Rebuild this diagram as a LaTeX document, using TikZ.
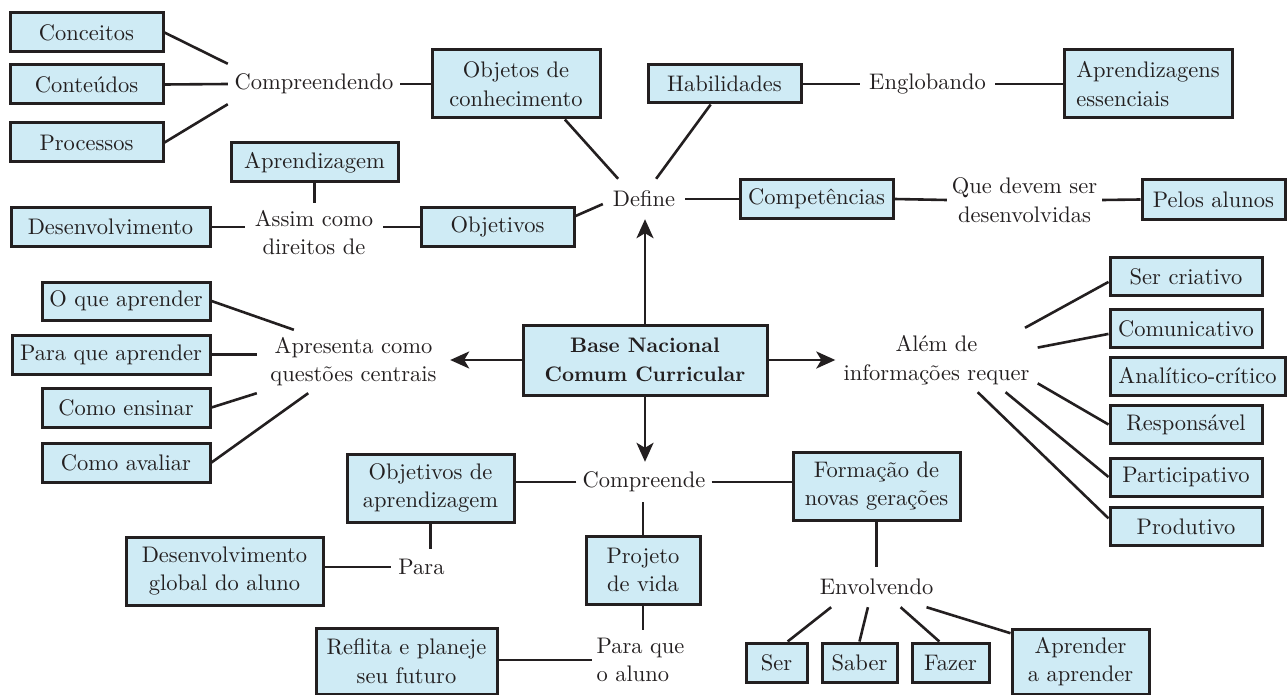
\documentclass[tikz,border=0pt]{standalone}
\usepackage{fontspec}
\setmainfont{lmroman10-regular.otf}[BoldFont=lmroman10-bold.otf]
\usetikzlibrary{arrows.meta}
\definecolor{boxfill}{HTML}{CFEBF5}
\definecolor{ink}{HTML}{231F20}
\tikzset{
 bx/.style={draw=ink, fill=boxfill, line width=3pt, inner sep=0pt, align=center, text=ink},
 lbl/.style={inner sep=0pt, align=center, text=ink},
 con/.style={draw=ink, line width=2.6pt},
 arr/.style={con, -{Stealth[length=19pt,width=17pt,inset=5pt]}},
}
\begin{document}
\begin{tikzpicture}[x=1pt,y=-1pt, font=\fontsize{22.5}{28.5}\selectfont]
\useasboundingbox (0,0) rectangle (1287,695);
% ---- boxes
\node[bx, minimum width=153pt, minimum height=39pt] (conceitos) at (86.5,32.5) {Conceitos};
\node[bx, minimum width=153pt, minimum height=39pt] (conteudos) at (86.5,84.5) {Conteúdos};
\node[bx, minimum width=153pt, minimum height=39pt] (processos) at (86.5,142.5) {Processos};
\node[bx, minimum width=168pt, minimum height=68pt] (objetos) at (516,84) {Objetos de\\conhecimento};
\node[bx, minimum width=153pt, minimum height=38pt] (habilidades) at (724.5,84) {Habilidades};
\node[bx, minimum width=168pt, minimum height=68pt, align=left] (aprendess) at (1148,84) {Aprendizagens\\essenciais};
\node[bx, minimum width=167pt, minimum height=39pt] (aprendizagem) at (314.5,162.5) {Aprendizagem};
\node[bx, minimum width=199pt, minimum height=38pt] (desenv) at (110.5,227) {Desenvolvimento};
\node[bx, minimum width=153pt, minimum height=38pt] (objetivos) at (497.5,227) {Objetivos};
\node[bx, minimum width=153pt, minimum height=38pt] (competencias) at (816.5,199) {Competências};
\node[bx, minimum width=143pt, minimum height=39pt] (pelos) at (1213.5,199.5) {Pelos alunos};
\node[bx, minimum width=168pt, minimum height=38pt] (oque) at (126,301) {O que aprender};
\node[bx, minimum width=198pt, minimum height=39pt] (paraque) at (111,354.5) {Para que aprender};
\node[bx, minimum width=168pt, minimum height=39pt] (comoensinar) at (126,407.5) {Como ensinar};
\node[bx, minimum width=168pt, minimum height=39pt] (comoavaliar) at (126,462.5) {Como avaliar};
\node[bx, minimum width=244pt, minimum height=70pt, font=\fontsize{21}{28.5}\selectfont\bfseries] (base) at (645,360) {Base Nacional\\Comum Curricular};
\node[bx, minimum width=152pt, minimum height=38pt] (sercriativo) at (1186,276.5) {Ser criativo};
\node[bx, minimum width=152pt, minimum height=38pt] (comunicativo) at (1186,328.5) {Comunicativo};
\node[bx, minimum width=175pt, minimum height=38pt] (analitico) at (1197.5,376) {Analítico-crítico};
\node[bx, minimum width=152pt, minimum height=38pt] (responsavel) at (1186,424.5) {Responsável};
\node[bx, minimum width=152pt, minimum height=38pt] (participativo) at (1186,477) {Participativo};
\node[bx, minimum width=152pt, minimum height=38pt] (produtivo) at (1186,526.5) {Produtivo};
\node[bx, minimum width=167pt, minimum height=68pt] (objaprend) at (430.5,488) {Objetivos de\\aprendizagem};
\node[bx, minimum width=167pt, minimum height=68pt] (formacao) at (876.5,486) {Formação de\\novas gerações};
\node[bx, minimum width=197pt, minimum height=68pt] (desglobal) at (224.5,571) {Desenvolvimento\\global do aluno};
\node[bx, minimum width=114pt, minimum height=68pt] (projeto) at (643,570) {Projeto\\de vida};
\node[bx, minimum width=181pt, minimum height=66pt] (reflita) at (406.5,661) {Reflita e planeje\\seu futuro};
\node[bx, minimum width=61pt, minimum height=39pt] (ser) at (776.5,662.5) {Ser};
\node[bx, minimum width=75pt, minimum height=39pt] (saber) at (859.5,662.5) {Saber};
\node[bx, minimum width=77pt, minimum height=39pt] (fazer) at (950.5,662.5) {Fazer};
\node[bx, minimum width=137pt, minimum height=65pt] (aprender) at (1080.5,661.5) {Aprender\\a aprender};
% ---- labels
\node[lbl, minimum width=172pt, minimum height=40pt] (compreendendo) at (314,84) {Compreendendo};
\node[lbl, minimum width=135pt, minimum height=40pt] (englobando) at (927.5,84) {Englobando};
\node[lbl, minimum width=82pt, minimum height=40pt] (define) at (644,199) {Define};
\node[lbl, minimum width=155pt, minimum height=60pt] (quedevem) at (1024.5,200) {Que devem ser\\desenvolvidas};
\node[lbl, minimum width=138pt, minimum height=59pt] (assim) at (314,232.5) {Assim como\\direitos de};
\node[lbl, minimum width=193pt, minimum height=63pt] (apresenta) at (353.5,361.5) {Apresenta como\\questões centrais};
\node[lbl, minimum width=202pt, minimum height=64pt] (alem) at (936.5,360) {Além de\\informações requer};
\node[lbl, minimum width=135pt, minimum height=40pt] (compreende) at (644,482) {Compreende};
\node[lbl, minimum width=61pt, minimum height=36pt] (para) at (421.5,567) {Para};
\node[lbl, minimum width=97pt, minimum height=60pt, align=left] (paraaluno) at (640.5,660) {Para que\\o aluno};
\node[lbl, minimum width=127pt, minimum height=40pt] (envolvendo) at (876.5,587) {Envolvendo};
% ---- connectors
\draw[con] (conceitos.east) -- (compreendendo.north west);
\draw[con] (conteudos.east) -- (compreendendo.west);
\draw[con] (processos.east) -- (compreendendo.south west);
\draw[con] (compreendendo.east) -- (objetos.west);
\draw[con] (objetos.-36.5) -- (define.142);
\draw[con] (habilidades.236.7) -- (define.59);
\draw[con] (habilidades.east) -- (englobando.west);
\draw[con] (englobando.east) -- (aprendess.west);
\draw[con] (objetivos.8) -- (define.187);
\draw[con] (define.east) -- (competencias.west);
\draw[con] (competencias.east) -- (quedevem.west);
\draw[con] (quedevem.east) -- (pelos.west);
\draw[con] (aprendizagem.south) -- (aprendizagem.south |- assim.north);
\draw[con] (desenv.east) -- (desenv.east -| assim.west);
\draw[con] (assim.east |- objetivos.west) -- (objetivos.west);
\draw[arr] (base.north) -- (base.north |- define.south);
\draw[arr] (base.west) -- (base.west -| apresenta.east);
\draw[arr] (base.east) -- (base.east -| alem.west);
\draw[arr] (base.south) -- (base.south |- compreende.north);
\draw[con] (oque.east) -- (apresenta.152.5);
\draw[con] (paraque.east) -- (paraque.east -| apresenta.west);
\draw[con] (comoensinar.east) -- (apresenta.south west);
\draw[con] (comoavaliar.east) -- (apresenta.215.9);
\draw[con] (sercriativo.184) -- (alem.20);
\draw[con] (comunicativo.184) -- (alem.7);
\draw[con] (responsavel.west) -- (alem.-13);
\draw[con] (participativo.west) -- (alem.-25);
\draw[con] (produtivo.174) -- (alem.-38);
\draw[con] (compreende.west) -- (compreende.west -| objaprend.east);
\draw[con] (compreende.east) -- (compreende.east -| formacao.west);
\draw[con] (projeto.north |- compreende.south) -- (projeto.north);
\draw[con] (objaprend.south) -- (objaprend.south |- para.north);
\draw[con] (para.west) -- (para.west -| desglobal.east);
\draw[con] (projeto.south) -- (projeto.south |- paraaluno.north);
\draw[con] (reflita.east |- paraaluno.west) -- (paraaluno.west);
\draw[con] (formacao.south) -- (formacao.south |- envolvendo.north);
\draw[con] (envolvendo.204.2) -- (ser.62);
\draw[con] (envolvendo.247) -- (saber.north);
\draw[con] (envolvendo.320.8) -- (fazer.118);
\draw[con] (envolvendo.338.4) -- (aprender.158);
\end{tikzpicture}
\end{document}
